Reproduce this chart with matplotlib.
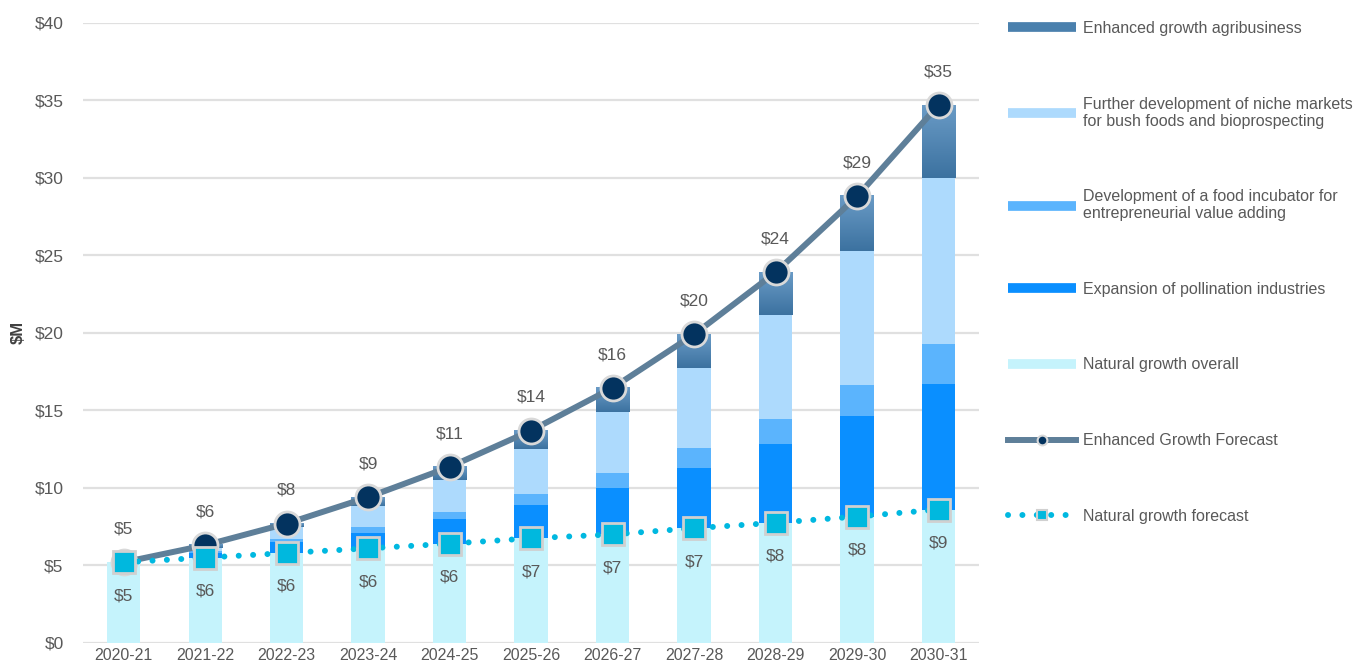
import matplotlib.pyplot as plt
import numpy as np
from matplotlib.lines import Line2D
from matplotlib.colors import LinearSegmentedColormap

plt.rcParams['font.family'] = ['Liberation Sans', 'DejaVu Sans']

years = ["2020-21", "2021-22", "2022-23", "2023-24", "2024-25", "2025-26",
         "2026-27", "2027-28", "2028-29", "2029-30", "2030-31"]

# $M per component, stacked bottom to top
natural = [5.2, 5.5, 5.8, 6.1, 6.4, 6.75, 7.0, 7.4, 7.75, 8.15, 8.6]
pollination = [0, 0.3, 0.7, 1.0, 1.58, 2.15, 3.0, 3.9, 5.09, 6.5, 8.1]
incubator = [0, 0.15, 0.2, 0.35, 0.47, 0.7, 0.97, 1.3, 1.61, 2.0, 2.6]
niche = [0, 0.15, 0.75, 1.4, 2.05, 2.9, 3.93, 5.14, 6.71, 8.6, 10.7]
agribusiness = [0, 0.2, 0.25, 0.55, 0.85, 1.2, 1.55, 2.16, 2.74, 3.55, 4.7]

enhanced = np.sum([natural, pollination, incubator, niche, agribusiness], axis=0)

c_natural = "#C5F3FC"
c_poll = "#0A8FFF"
c_incub = "#5BB4FD"
c_niche = "#ADDAFD"
c_agri = "#4A80AD"
c_line = "#5E7F99"
c_text = "#595959"

fig = plt.figure(figsize=(13.54, 6.69), dpi=100)
ax = fig.add_axes([0.0613, 0.039, 0.662, 0.927])

x = np.arange(len(years))
w = 0.41

ax.bar(x, natural, w, color=c_natural, zorder=2)
bottom = np.array(natural)
ax.bar(x, pollination, w, bottom=bottom, color=c_poll, zorder=2)
bottom = bottom + pollination
ax.bar(x, incubator, w, bottom=bottom, color=c_incub, zorder=2)
bottom = bottom + incubator
ax.bar(x, niche, w, bottom=bottom, color=c_niche, zorder=2)
bottom = bottom + niche

# agribusiness segment drawn with a vertical gradient
grad = LinearSegmentedColormap.from_list("agri", ["#3C72A0", "#6A9BC6"])
for xi, b, h in zip(x, bottom, agribusiness):
    if h <= 0:
        continue
    ax.imshow(np.linspace(0, 1, 64).reshape(-1, 1), cmap=grad, origin="lower",
              extent=(xi - w / 2, xi + w / 2, b, b + h), aspect="auto", zorder=2)

ax.plot(x, enhanced, color=c_line, lw=4.3, marker="o", ms=18,
        mfc="#03335F", mec="#D9D9D9", mew=2, zorder=4)
ax.plot(x, natural, color="#00B8E0", lw=4.3, linestyle=(0, (0.01, 2.4)),
        dash_capstyle="round", marker="s", ms=16, mfc="#00B8DE",
        mec="#D0D0D0", mew=2, zorder=5)

for xi, v in zip(x, enhanced):
    ax.annotate(f"${v:.0f}", (xi, v), xytext=(0, 24), textcoords="offset points",
                ha="center", va="center", fontsize=12.5, color=c_text, zorder=6)
for xi, v in zip(x, natural):
    ax.annotate(f"${v:.0f}", (xi, v), xytext=(0, -24), textcoords="offset points",
                ha="center", va="center", fontsize=12.5, color=c_text, zorder=6)

ax.set_xlim(-0.5, len(years) - 0.5)
ax.set_ylim(0, 40)
ax.set_yticks(range(0, 41, 5))
ax.set_yticklabels([f"${t}" for t in range(0, 41, 5)])
ax.set_xticks(x)
ax.set_xticklabels(years)
ax.tick_params(axis="y", length=0, labelsize=12.5, labelcolor=c_text, pad=14)
ax.tick_params(axis="x", length=0, labelsize=11.5, labelcolor=c_text, pad=4)
ax.yaxis.grid(True, color="#E0E0E0", lw=1.6, zorder=0)
ax.set_axisbelow(True)
for s in ax.spines.values():
    s.set_visible(False)
ax.set_ylabel("$M", fontsize=12, fontweight="bold", color="#404040", labelpad=6)

handles = [
    Line2D([], [], color=c_agri, lw=7, solid_capstyle="butt"),
    Line2D([], [], color=c_niche, lw=7, solid_capstyle="butt"),
    Line2D([], [], color=c_incub, lw=7, solid_capstyle="butt"),
    Line2D([], [], color=c_poll, lw=7, solid_capstyle="butt"),
    Line2D([], [], color=c_natural, lw=7, solid_capstyle="butt"),
    Line2D([], [], color=c_line, lw=4.3, marker="o", ms=7, mfc="#03335F",
           mec="#D9D9D9", mew=1.5),
    Line2D([], [], color="#00B8E0", lw=4.3, linestyle=(0, (0.01, 2.4)),
           dash_capstyle="round", marker="s", ms=7, mfc="#00B8DE",
           mec="#D0D0D0", mew=1.5),
]
labels = [
    "Enhanced growth agribusiness",
    "Further development of niche markets\nfor bush foods and bioprospecting",
    "Development of a food incubator for\nentrepreneurial value adding",
    "Expansion of pollination industries",
    "Natural growth overall",
    "Enhanced Growth Forecast",
    "Natural growth forecast",
]
leg = fig.legend(handles, labels, loc="upper left", bbox_to_anchor=(0.734, 0.99),
                 frameon=False, fontsize=11.5, handlelength=4.25, handletextpad=0.45,
                 labelspacing=3.8, numpoints=1)
for t in leg.get_texts():
    t.set_color(c_text)
    t.set_linespacing(1.15)

fig.savefig("out.png", dpi=100)
